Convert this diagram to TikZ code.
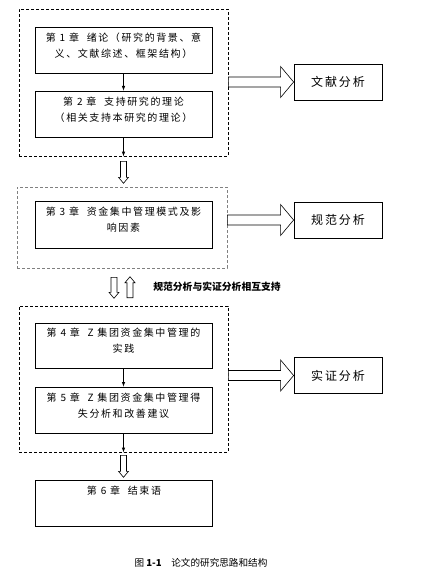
\documentclass[tikz,border=0pt]{standalone}
\usepackage{fontspec}
\newfontfamily\cjk[LetterSpace=16]{Noto Sans CJK SC}
\newfontfamily\cjkplain{Noto Sans CJK SC}
\usetikzlibrary{shapes,arrows,positioning,calc}

\begin{document}
\begin{tikzpicture}[x=1pt,y=-1pt]
  % Styles
  \tikzstyle{chapter}=[draw, rectangle, line width=0.8pt, minimum width=177pt, minimum height=46pt, align=center, text depth=10pt, font=\cjk\fontsize{10}{16}\selectfont]
  \tikzstyle{frame}=[draw, rectangle, densely dashed, line width=0.6pt]
  \tikzstyle{method}=[draw, rectangle, line width=0.8pt, minimum width=88pt, minimum height=36pt, font=\cjk\fontsize{12}{14}\selectfont]
  \tikzstyle{arrow}=[->, >=latex, line width=0.6pt]
  \tikzstyle{hollow}=[draw, line width=0.6pt, fill=white]

  \useasboundingbox (0,0) rectangle (435,583);

  % Frames
  \node[frame, minimum width=209pt, minimum height=147pt] (frame1) at (123.5,82.5) {};
  \node[frame, draw=gray, minimum width=210pt, minimum height=81pt] (frame2) at (122,227.5) {};
  \node[frame, minimum width=209pt, minimum height=146pt] (frame3) at (123.5,379) {};

  % Chapters
  \node[chapter] (ch1) at (123.5,50) {第 1 章\ \ 绪论（研究的背景、意\\义、文献综述、框架结构）};
  \node[chapter] (ch2) at (123.5,114) {第 2 章\ \ 支持研究的理论\\（相关支持本研究的理论）};
  \node[chapter, minimum height=47pt] (ch3) at (123.5,224.5) {第 3 章\ \ 资金集中管理模式及影\\响因素};
  \node[chapter, minimum height=45pt] (ch4) at (123.5,345.5) {第 4 章\ \ Z 集团资金集中管理的\\实践};
  \node[chapter] (ch5) at (123.5,410) {第 5 章\ \ Z 集团资金集中管理得\\失分析和改善建议};
  \node[chapter] (ch6) at (124,503) {};
  \node[font=\cjk\fontsize{10}{16}\selectfont, below=3pt of ch6.north] (ch6title) {第 6 章\ \ 结束语};

  % Methods
  \node[method] (lit) at (338,82) {文献分析};
  \node[method] (norm) at (338,220) {规范分析};
  \node[method] (emp) at (338,375.5) {实证分析};

  \node[font=\cjkplain\bfseries\fontsize{9.8}{10}\selectfont] (support) at (217,287) {规范分析与实证分析相互支持};
  \node[font=\cjkplain\fontsize{9.6}{10}\selectfont] (caption) at (201,563) {图 \textbf{1-1}\quad 论文的研究思路和结构};

  % Arrows
  \draw[arrow] (ch1) -- (ch2);
  \draw[arrow] (ch2) -- (frame1.south);
  \draw[arrow] (ch4) -- (ch5);
  \draw[arrow] (ch5) -- (frame3.south);

  \draw[hollow] ($(frame1.south)+(-3,5)$) -- ++(0,16) -- ++(-2,0) -- ++(5,6) -- ++(5,-6) -- ++(-2,0) -- ++(0,-16) -- cycle;
  \draw[hollow] ($(frame2.south)+(-11,9)$) -- ++(0,15) -- ++(-2,0) -- ++(5,6) -- ++(5,-6) -- ++(-2,0) -- ++(0,-15) -- cycle;
  \draw[hollow] ($(frame3.north)+(3.5,-8)$) -- ++(0,-15) -- ++(-2,0) -- ++(5,-6) -- ++(5,6) -- ++(-2,0) -- ++(0,15) -- cycle;
  \draw[hollow] ($(frame3.south)+(-3,3)$) -- ++(0,16) -- ++(-2,0) -- ++(5,6) -- ++(5,-6) -- ++(-2,0) -- ++(0,-16) -- cycle;

  \draw[hollow] ($(frame1.east |- lit.west)+(0,-5)$) -- ($(lit.west)+(-13,-5)$) -- ++(0,-10.5) -- (lit.west) -- ++(-13,15.5) -- ++(0,-10.5) -- ($(frame1.east |- lit.west)+(0,5)$) -- cycle;
  \draw[hollow] ($(frame2.east |- norm.west)+(0,-5)$) -- ($(norm.west)+(-13,-5)$) -- ++(0,-10.5) -- (norm.west) -- ++(-13,15.5) -- ++(0,-10.5) -- ($(frame2.east |- norm.west)+(0,5)$) -- cycle;
  \draw[hollow] ($(frame3.east |- emp.west)+(0,-5)$) -- ($(emp.west)+(-13,-5)$) -- ++(0,-10.5) -- (emp.west) -- ++(-13,15.5) -- ++(0,-10.5) -- ($(frame3.east |- emp.west)+(0,5)$) -- cycle;
\end{tikzpicture}
\end{document}
